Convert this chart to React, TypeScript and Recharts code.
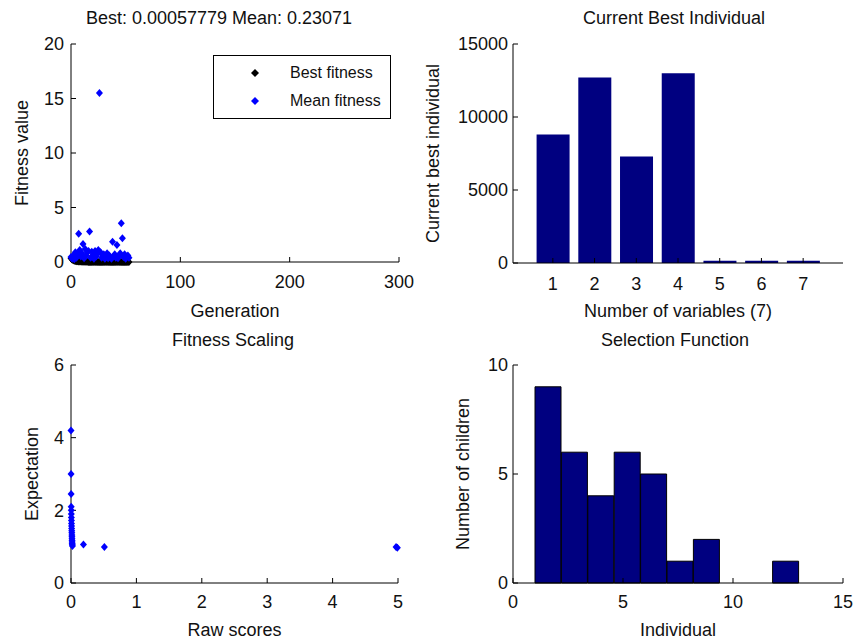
import React from 'react';
import { ScatterChart, Scatter, BarChart, Bar, XAxis, YAxis, Legend } from 'recharts';

const FONT = '"Liberation Sans", Arial, sans-serif';
const INK = '#111';
const BLUE = '#0000ff';
const NAVY = '#000080';

// GA progress: one point per generation
const generations = [
  0, 1, 2, 3, 4, 5, 6, 7, 8, 9, 10, 11, 12, 13, 14, 15, 16, 17, 18, 19, 20, 21, 22, 23, 24, 25, 26,
  27, 28, 29, 30, 31, 32, 33, 34, 35, 36, 37, 38, 39, 40, 41, 42, 43, 44, 45, 46, 47, 48, 49, 50, 51, 52, 53,
];
const bestFitness = [
  0.35, 0.22, 0.15, 0.12, 0.09, 0.07, 0.06, 0.05, 0.04, 0.035, 0.03, 0.025, 0.02, 0.018, 0.015, 0.012, 0.01, 0.009,
  0.008, 0.007, 0.006, 0.005, 0.005, 0.004, 0.004, 0.003, 0.003, 0.003, 0.002, 0.002, 0.002, 0.002, 0.0015, 0.0015,
  0.0012, 0.0012, 0.001, 0.001, 0.001, 0.0009, 0.0009, 0.0008, 0.0008, 0.0007, 0.0007, 0.0007, 0.0006, 0.0006,
  0.0006, 0.0006, 0.00058, 0.00058, 0.00058, 0.00058,
];
const meanFitness = [
  0.45, 0.3, 0.6, 0.25, 0.9, 0.4, 0.7, 2.6, 1.1, 0.5, 0.8, 1.65, 0.35, 1.2, 0.6, 0.9, 1.0, 2.8, 0.4, 0.95, 0.6,
  0.3, 1.0, 0.5, 0.75, 1.1, 15.5, 0.9, 0.4, 0.6, 0.7, 0.3, 0.5, 0.8, 0.35, 0.6, 0.45, 0.3, 1.86, 0.5, 0.7, 0.4,
  1.56, 0.35, 0.6, 0.8, 3.55, 2.17, 0.45, 0.7, 0.3, 0.5, 0.6, 0.4,
];

// fitness scaling: raw score vs expectation
const rawScores = [
  0, 0.001, 0.002, 0.003, 0.004, 0.005, 0.006, 0.007, 0.008, 0.009, 0.01, 0.011, 0.012, 0.013, 0.014, 0.015,
  0.016, 0.017, 0.018, 0.02, 0.022, 0.19, 0.51, 4.97, 4.99,
];
const expectations = [
  4.2, 3.0, 2.45, 2.1, 2.0, 1.9, 1.8, 1.72, 1.64, 1.57, 1.5, 1.44, 1.38, 1.32, 1.27, 1.22, 1.17, 1.13, 1.09,
  1.05, 1.02, 1.06, 0.99, 0.99, 0.97,
];

// current best individual
const variableLabels = ['1', '2', '3', '4', '5', '6', '7'];
const bestIndividual = [8800, 12700, 7300, 13000, 150, 150, 150];

// selection histogram
const binCenters = [1.6, 2.8, 4.0, 5.2, 6.4, 7.6, 8.8, 10.0, 11.2, 12.4];
const childCounts = [9, 6, 4, 6, 5, 1, 2, 0, 0, 1];

const bestData = generations.map((g, i) => ({ x: g, y: bestFitness[i] }));
const meanData = generations.map((g, i) => ({ x: g, y: meanFitness[i] }));
const scalingData = rawScores.map((r, i) => ({ x: r, y: expectations[i] }));
const individualData = variableLabels.map((n, i) => ({ name: n, value: bestIndividual[i] }));
const histData = binCenters.map((c, i) => ({ center: c, count: childCounts[i] }));

const tickStyle = { fill: INK, fontSize: 18 };
const blackLine = { stroke: '#000' };

const Diamond = (props: any) => {
  const { cx, cy, fill } = props;
  if (cx == null || cy == null) return null;
  return <polygon points={`${cx},${cy - 4} ${cx + 3.5},${cy} ${cx},${cy + 4} ${cx - 3.5},${cy}`} fill={fill} />;
};

const FitLegend = (props: any) => (
  <div style={{ border: '1px solid #000', background: '#fff', width: 178, height: 64, boxSizing: 'border-box', paddingTop: 3 }}>
    {(props.payload || []).map((p: any) => (
      <div key={p.value} style={{ display: 'flex', alignItems: 'center', height: 28, fontSize: 16, color: INK }}>
        <svg width={76} height={28} style={{ display: 'block' }}>
          <polygon points="41,10 45,14 41,18 37,14" fill={p.color} />
        </svg>
        <span>{p.value}</span>
      </div>
    ))}
  </div>
);

const Title = ({ text, cx, cy }: { text: string; cx: number; cy: number }) => (
  <div style={{ position: 'absolute', left: cx - 200, top: cy - 11, width: 400, textAlign: 'center', fontSize: 18, lineHeight: '22px', color: INK }}>
    {text}
  </div>
);

export default function App() {
  return (
    <div style={{ position: 'absolute', left: 0, top: 0, width: 853, height: 643, background: '#fff', fontFamily: FONT, overflow: 'hidden' }}>
      <div style={{ position: 'absolute', left: 0, top: 0 }}>
        <ScatterChart width={420} height={330} margin={{ top: 44, right: 21, bottom: 8, left: 0 }}>
          <XAxis type="number" dataKey="x" domain={[0, 300]} ticks={[0, 100, 200, 300]} height={60}
            tick={tickStyle} tickSize={-5} tickMargin={18} axisLine={blackLine} tickLine={blackLine}
            label={{ value: 'Generation', position: 'insideBottom', offset: 5, fill: INK, fontSize: 18 }} />
          <YAxis type="number" dataKey="y" domain={[0, 20]} ticks={[0, 5, 10, 15, 20]} width={71}
            tick={tickStyle} tickSize={-5} tickMargin={12} axisLine={blackLine} tickLine={blackLine}
            label={{ value: 'Fitness value', angle: -90, position: 'insideLeft', offset: 22, fill: INK, fontSize: 18, style: { textAnchor: 'middle' } }} />
          <Scatter name="Best fitness" data={bestData} fill="#000" shape={Diamond} isAnimationActive={false} />
          <Scatter name="Mean fitness" data={meanData} fill={BLUE} shape={Diamond} isAnimationActive={false} />
          <Legend layout="vertical" align="center" verticalAlign="middle" content={FitLegend}
            wrapperStyle={{ position: 'absolute', left: 213, top: 55, width: 178, height: 64 }} />
        </ScatterChart>
      </div>

      <div style={{ position: 'absolute', left: 420, top: 0 }}>
        <BarChart width={433} height={330} data={individualData} margin={{ top: 44, right: 10, bottom: 7, left: 0 }} barCategoryGap="11%">
          <XAxis dataKey="name" padding={{ left: 19, right: 19 }} height={60}
            tick={tickStyle} tickSize={-5} tickMargin={19} axisLine={blackLine} tickLine={blackLine}
            label={{ value: 'Number of variables (7)', position: 'insideBottom', offset: 6, fill: INK, fontSize: 18 }} />
          <XAxis xAxisId="top" orientation="top" type="number" domain={[0, 8]} ticks={[1, 2, 3, 4, 5, 6, 7]} height={0}
            tick={false} tickSize={-5} axisLine={blackLine} tickLine={blackLine} />
          <YAxis domain={[0, 15000]} ticks={[0, 5000, 10000, 15000]} width={93}
            tick={tickStyle} tickSize={-5} tickMargin={10} axisLine={blackLine} tickLine={blackLine}
            label={{ value: 'Current best individual', angle: -90, position: 'insideLeft', offset: 13, fill: INK, fontSize: 18, style: { textAnchor: 'middle' } }} />
          <YAxis yAxisId="right" orientation="right" domain={[0, 15000]} ticks={[0, 5000, 10000, 15000]} width={0}
            tick={false} tickSize={-5} axisLine={blackLine} tickLine={blackLine} />
          <Bar dataKey="value" fill={NAVY} isAnimationActive={false} />
        </BarChart>
      </div>

      <div style={{ position: 'absolute', left: 0, top: 330 }}>
        <ScatterChart width={420} height={313} margin={{ top: 35, right: 22, bottom: 0, left: 0 }}>
          <XAxis type="number" dataKey="x" domain={[0, 5]} ticks={[0, 1, 2, 3, 4, 5]} height={60}
            tick={tickStyle} tickSize={-5} tickMargin={17} axisLine={blackLine} tickLine={blackLine}
            label={{ value: 'Raw scores', position: 'insideBottom', offset: 7, fill: INK, fontSize: 18 }} />
          <YAxis type="number" dataKey="y" domain={[0, 6]} ticks={[0, 2, 4, 6]} width={71}
            tick={tickStyle} tickSize={-5} tickMargin={12} axisLine={blackLine} tickLine={blackLine}
            label={{ value: 'Expectation', angle: -90, position: 'insideLeft', offset: 32, fill: INK, fontSize: 18, style: { textAnchor: 'middle' } }} />
          <Scatter name="Expectation" data={scalingData} fill={BLUE} shape={Diamond} isAnimationActive={false} />
        </ScatterChart>
      </div>

      <div style={{ position: 'absolute', left: 420, top: 330 }}>
        <BarChart width={433} height={313} data={histData} margin={{ top: 35, right: 10, bottom: 0, left: 0 }} barCategoryGap={0}>
          <XAxis type="number" dataKey="center" domain={[0, 15]} ticks={[0, 5, 10, 15]} height={60}
            tick={tickStyle} tickSize={-5} tickMargin={17} axisLine={blackLine} tickLine={blackLine}
            label={{ value: 'Individual', position: 'insideBottom', offset: 7, fill: INK, fontSize: 18 }} />
          <XAxis xAxisId="top" orientation="top" type="number" domain={[0, 15]} ticks={[0, 5, 10, 15]} height={0}
            tick={false} tickSize={-5} axisLine={blackLine} tickLine={blackLine} />
          <YAxis domain={[0, 10]} ticks={[0, 5, 10]} width={93}
            tick={tickStyle} tickSize={-5} tickMargin={10} axisLine={blackLine} tickLine={blackLine}
            label={{ value: 'Number of children', angle: -90, position: 'insideLeft', offset: 43, fill: INK, fontSize: 18, style: { textAnchor: 'middle' } }} />
          <YAxis yAxisId="right" orientation="right" domain={[0, 10]} ticks={[0, 5, 10]} width={0}
            tick={false} tickSize={-5} axisLine={blackLine} tickLine={blackLine} />
          <Bar dataKey="count" fill={NAVY} stroke="#000" strokeWidth={1} isAnimationActive={false} />
        </BarChart>
      </div>

      <Title text="Best: 0.00057779 Mean: 0.23071" cx={219} cy={18} />
      <Title text="Current Best Individual" cx={674} cy={18} />
      <Title text="Fitness Scaling" cx={233} cy={340} />
      <Title text="Selection Function" cx={675} cy={340} />
    </div>
  );
}
